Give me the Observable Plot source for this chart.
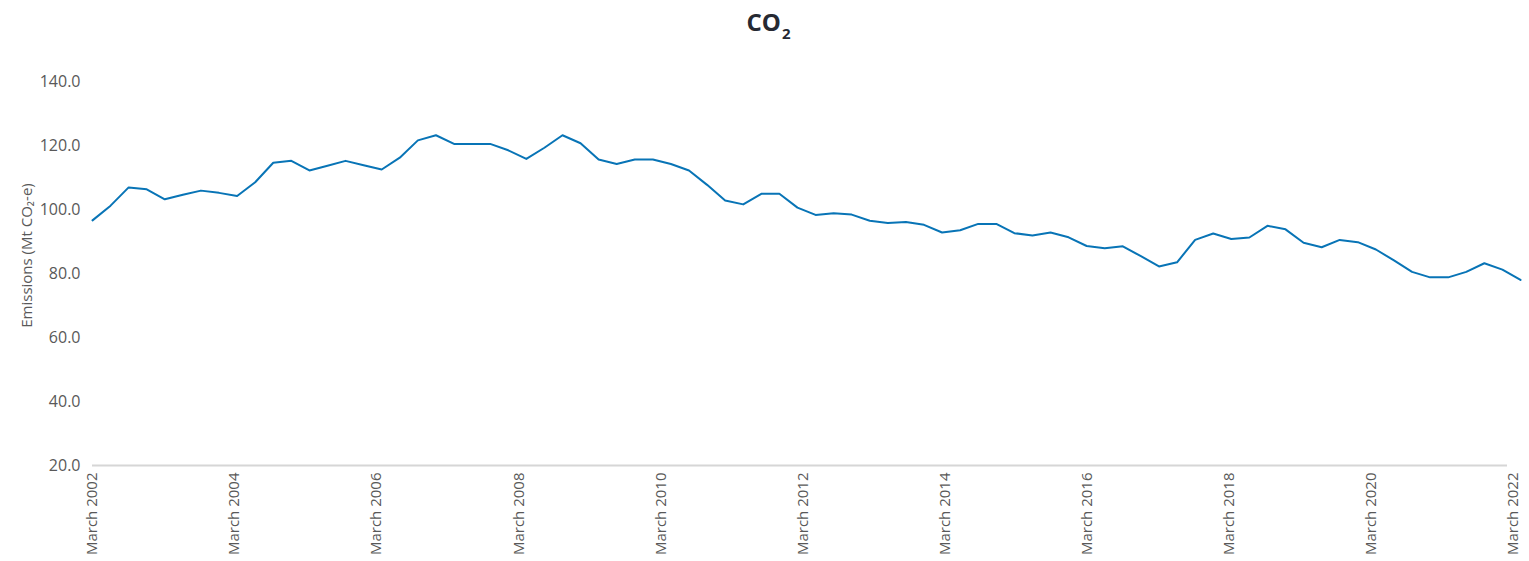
<!DOCTYPE html>
<html><head><meta charset="utf-8">
<script src="https://cdn.jsdelivr.net/npm/d3@7"></script>
<script src="https://cdn.jsdelivr.net/npm/@observablehq/plot@0.6"></script>
<style>
body{margin:0;background:#fff;font-family:"Open Sans",sans-serif;}
#title{height:50px;line-height:43px;text-align:center;font-weight:700;font-size:24px;color:#262932;padding-left:8px;}
#title span{font-size:15px;position:relative;top:8px;margin-left:1px;}
</style></head><body>
<div id="title">CO<span>2</span></div>
<div id="chart"></div>
<script>
const startYear = 2002;
const quarterMonths = ["March", "June", "September", "December"];
const emissions = [
  96.6, 101.2, 106.9, 106.3, 103.2, 104.6, 105.9, 105.2,
  104.2, 108.5, 114.6, 115.2, 112.2, 113.7, 115.2, 113.8,
  112.5, 116.2, 121.6, 123.2, 120.5, 120.5, 120.5, 118.5,
  115.8, 119.3, 123.2, 120.7, 115.6, 114.2, 115.6, 115.6,
  114.2, 112.2, 107.7, 102.8, 101.6, 104.9, 104.9, 100.6,
  98.3, 98.8, 98.4, 96.5, 95.8, 96.1, 95.2, 92.8,
  93.5, 95.5, 95.5, 92.6, 91.9, 92.8, 91.3, 88.6,
  87.9, 88.5, 85.4, 82.2, 83.5, 90.5, 92.5, 90.8,
  91.25, 94.9, 93.8, 89.6, 88.2, 90.5, 89.8, 87.5,
  84.1, 80.5, 78.8, 78.8, 80.5, 83.2, 81.2, 78.0
];
const quarters = emissions.map((_, i) => `${quarterMonths[i % 4]} ${startYear + Math.floor(i / 4)}`);
const tickLabels = ["March 2002", "March 2004", "March 2006", "March 2008", "March 2010",
  "March 2012", "March 2014", "March 2016", "March 2018", "March 2020", "March 2022"];
const yTicks = [20, 40, 60, 80, 100, 120, 140];
const yLabel = "Emissions (Mt CO\u2082-e)";

const data = emissions.map((v, i) => ({idx: i, quarter: quarters[i], value: v}));
const tickStep = 7.86;
const tickPos = tickLabels.map((_, k) => k * tickStep);

const plot = Plot.plot({
  width: 1529,
  height: 511,
  marginTop: 31,
  marginBottom: 96,
  marginLeft: 92,
  marginRight: 9,
  style: {fontFamily: "'Open Sans', sans-serif", fontSize: "15px", color: "#595959", background: "#fff", overflow: "visible"},
  x: {type: "linear", domain: [0, emissions.length - 1], axis: null},
  y: {domain: [20, 140], axis: null},
  marks: [
    Plot.axisY({ticks: yTicks, tickFormat: d => d.toFixed(1), tickSize: 0, tickPadding: 12, label: null, fontSize: 16}),
    Plot.axisX({ticks: tickPos, tickFormat: d => tickLabels[Math.round(d / tickStep)], tickRotate: -90, tickSize: 0, tickPadding: 7, label: null, fontSize: 15}),
    Plot.ruleY([20], {stroke: "#d6d6d6", strokeWidth: 2, insetRight: 13}),
    Plot.lineY(data, {x: "idx", y: "value", stroke: "#0874b6", strokeWidth: 2}),
    Plot.text([yLabel], {frameAnchor: "left", textAnchor: "middle", rotate: -90, dx: -65, dy: -18, fontSize: 15, fill: "#595959"})
  ]
});
document.getElementById("chart").appendChild(plot);
</script>
</body></html>
